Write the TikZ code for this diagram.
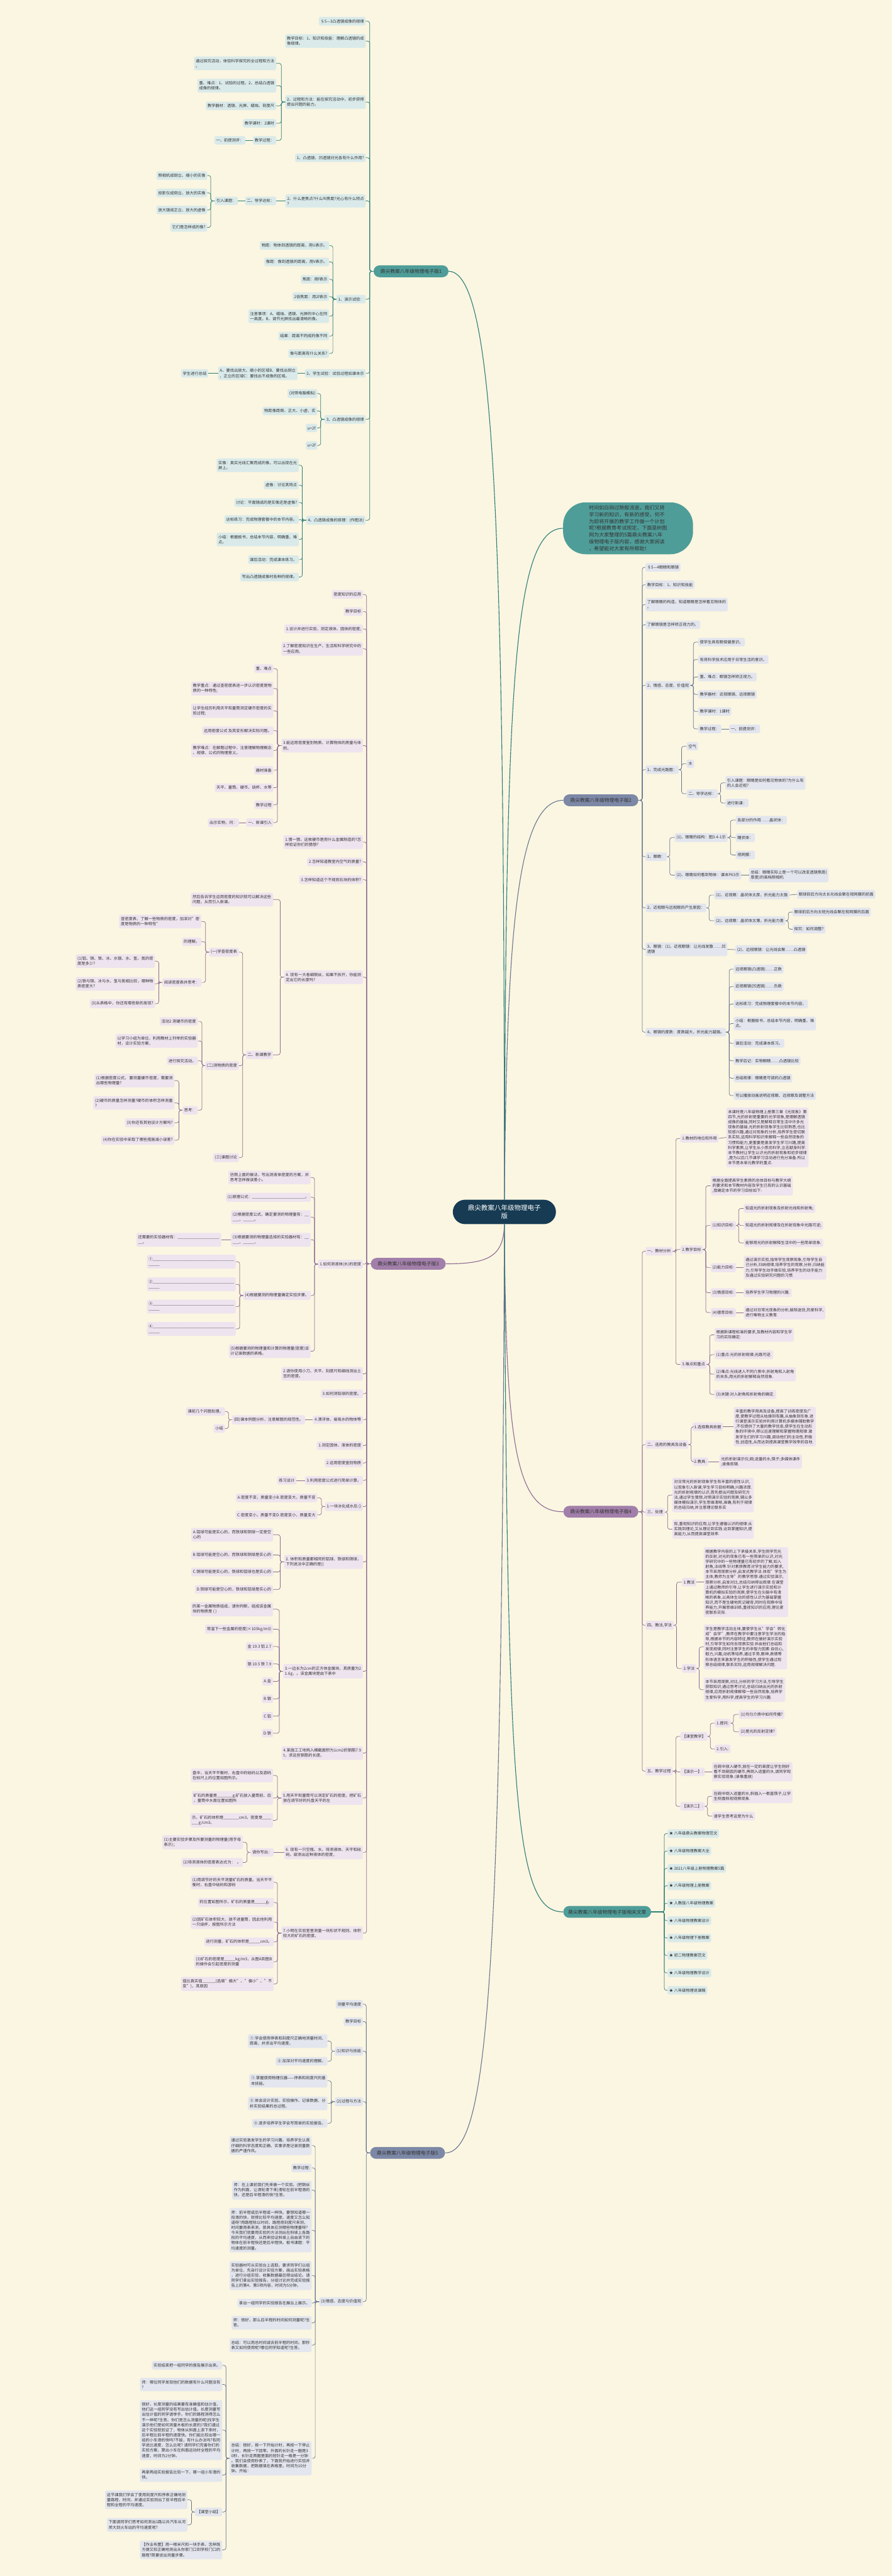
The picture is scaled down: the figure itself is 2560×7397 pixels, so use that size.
\documentclass[tikz,border=0pt]{standalone}
\usepackage{fontspec}
\setmainfont{Noto Sans CJK SC}
\usepackage{tikz}
\usetikzlibrary{positioning}
\definecolor{paper}{HTML}{FBF6E1}
\definecolor{ink}{HTML}{333333}
\definecolor{tealln}{HTML}{2E7E7A}
\definecolor{tealbg}{HTML}{DAEAEA}
\definecolor{tealhd}{HTML}{4F9D99}
\definecolor{purpln}{HTML}{8D6B94}
\definecolor{purpbg}{HTML}{EEE4EF}
\definecolor{purphd}{HTML}{A27FAA}
\definecolor{slateln}{HTML}{687691}
\definecolor{slatebg}{HTML}{E3E6EE}
\definecolor{slatehd}{HTML}{7C88A6}
\definecolor{navy}{HTML}{163B53}
\newcommand{\nodefont}{\fontsize{11.3}{14.7}\selectfont}
\newcommand{\headfont}{\fontsize{14}{18}\selectfont}
\newcommand{\fillin}[1]{\foreach \k in {1,...,#1}{\_}}

\begin{document}
\begin{tikzpicture}[
    x=1pt,y=-1pt,
    box/.style={rounded corners=5pt,inner xsep=5pt,inner ysep=7pt,minimum height=24pt,align=left,text=ink,font=\nodefont},
    tb/.style={box,fill=tealbg},
    pb/.style={box,fill=purpbg},
    sb/.style={box,fill=slatebg},
    hd/.style={rounded corners=17pt,minimum height=34pt,minimum width=215pt,inner xsep=14pt,text=ink,font=\headfont},
    tl/.style={draw=tealln,line width=1.3pt,rounded corners=6pt},
    pl/.style={draw=purpln,line width=1.3pt,rounded corners=6pt},
    sl/.style={draw=slateln,line width=1.3pt,rounded corners=6pt},
    ml/.style={line width=2pt}
  ]
  \fill[paper] (0,0) rectangle (2560,7397);
  \useasboundingbox (0,0) rectangle (2560,7397);

  % centre and intro
  \node[fill=navy,text=white,rounded corners=35pt,minimum width=296pt,minimum height=70pt,align=center,font=\fontsize{19}{25}\selectfont] (c0) at (1448,3480) {鼎尖教案八年级物理电子\\版};
  \node[fill=tealhd,text=ink,rounded corners=65pt,minimum width=373pt,minimum height=149pt,align=left,font=\fontsize{14.5}{19.4}\selectfont] (n0) at (1803,1517) {时间如白驹过隙般流逝，我们又将\\学习新的知识，有新的感受，何不\\为即将开展的教学工作做一个计划\\呢?根据教育考试规定，下面是树图\\网为大家整理的5篇鼎尖教案八年\\级物理电子版内容，感谢大家阅读\\，希望能对大家有所帮助！};

  % 版1
  \node[hd,fill=tealhd] (b1) at (1180,779) {鼎尖教案八年级物理电子版1};
  \node[tb,left] (a1) at (1050,61) {§5—3凸透镜成像的规律};
  \node[tb,left] (a2) at (1050,118) {教学目标：1、知识和技能：理解凸透镜的成\\像规律。};
  \node[tb,left] (a3) at (1050,293) {2、过程和方法：能在探究活动中，初步获得\\提出问题的能力。};
  \node[tb,left] (a31) at (793,182) {通过探究活动，体验科学探究的全过程和方法\\。};
  \node[tb,left] (a32) at (793,246) {重、难点：1、试验的过程。2、总结凸透镜\\成像的规律。};
  \node[tb,left] (a33) at (793,304) {教学器材：透镜、光屏、蜡烛、刻度尺};
  \node[tb,left] (a34) at (793,354) {教学课时：2课时};
  \node[tb,left] (a35) at (793,403) {教学过程：};
  \node[tb,left] (a351) at (705,403) {一、前提测评：};
  \node[tb,left] (a4) at (1050,453) {1、凸透镜、凹透镜对光各有什么作用?};
  \node[tb,left] (a5) at (1050,577) {2、什么是焦点?什么叫焦距?光心有什么特点\\?};
  \node[tb,left] (a51) at (793,577) {二、导学达标：};
  \node[tb,left] (a511) at (683,577) {引入课题：};
  \node[tb,left] (a5111) at (595,504) {照相机成倒立、缩小的实像};
  \node[tb,left] (a5112) at (595,554) {投影仪成倒立、放大的实像};
  \node[tb,left] (a5113) at (595,603) {放大镜成正立、放大的虚像};
  \node[tb,left] (a5114) at (595,653) {它们是怎样成的像?};
  \node[tb,left] (a6) at (1050,859) {1、演示试验：};
  \node[tb,left] (a61) at (945,705) {物距：物体到透镜的距离，用U表示。};
  \node[tb,left] (a62) at (945,752) {像距：像到透镜的距离，用V表示。};
  \node[tb,left] (a63) at (945,802) {焦距：用f表示};
  \node[tb,left] (a64) at (945,852) {2倍焦距：用2f表示};
  \node[tb,left] (a65) at (945,908) {注意事项：A、蜡烛、透镜、光屏的中心在同\\一高度。B、调节光屏找出最清晰的像。};
  \node[tb,left] (a66) at (945,965) {结果：距离不同成的像不同};
  \node[tb,left] (a67) at (945,1015) {像与距离有什么关系?};
  \node[tb,left] (a7) at (1050,1072) {2、学生试验：试验过程如课本示};
  \node[tb,left] (a71) at (854,1072) {A、要找出放大、缩小的区域B、要找出倒立\\、正立的区域C：要找出不成像的区域。};
  \node[tb,left] (a711) at (598,1072) {学生进行总结};
  \node[tb,left] (a8) at (1050,1204) {3、凸透镜成像的规律};
  \node[tb,left] (a81) at (911,1130) {(对照电脑模拟)};
  \node[tb,left] (a82) at (911,1180) {物距像距倒、正大、小虚、实};
  \node[tb,left] (a83) at (911,1229) {u>2f};
  \node[tb,left] (a84) at (911,1279) {u=2f};
  \node[tb,left] (a9) at (1050,1494) {4、凸透镜成像的原理：(作图法)};
  \node[tb,left] (a91) at (858,1336) {实像：真实光线汇聚而成的像，可以出现在光\\屏上。};
  \node[tb,left] (a92) at (858,1393) {虚像：讨论其特点};
  \node[tb,left] (a93) at (858,1443) {讨论：平面镜成的是实像还是虚像?};
  \node[tb,left] (a94) at (858,1492) {达标练习：完成物理套餐中的本节内容。};
  \node[tb,left] (a95) at (858,1549) {小结：根据板书，总结本节内容，明确重、难\\点。};
  \node[tb,left] (a96) at (858,1607) {课后活动：完成课本练习。};
  \node[tb,left] (a97) at (858,1657) {写出凸透镜成像时各种的规律。};

  % 版3
  \node[hd,fill=purphd] (b3) at (1172,3629) {鼎尖教案八年级物理电子版3};
  \node[pb,left] (c1) at (1042,1707) {密度知识的应用};
  \node[pb,left] (c2) at (1042,1756) {教学目标};
  \node[pb,left] (c3) at (1042,1806) {1.设计并进行实验，测定液体、固体的密度;};
  \node[pb,left] (c4) at (1042,1863) {2.了解密度知识在生产、生活和科学研究中的\\一些应用。};
  \node[pb,left] (c5) at (1042,2141) {3.能运用密度鉴别物质、计算物体的质量与体\\积。};
  \node[pb,left] (c51) at (785,1920) {重、难点};
  \node[pb,left] (c52) at (785,1977) {教学重点：通过查密度表进一步认识密度是物\\质的一种特性;};
  \node[pb,left] (c53) at (785,2041) {让学生经历利用天平和量筒测定硬币密度的实\\验过程;};
  \node[pb,left] (c54) at (785,2098) {运用密度公式 及其变形解决实际问题。};
  \node[pb,left] (c55) at (785,2155) {教学难点：在解题过程中，注意理解物理概念\\、规律、公式的物理意义。};
  \node[pb,left] (c56) at (785,2212) {器材准备};
  \node[pb,left] (c57) at (785,2262) {天平、量筒、硬币、烧杯、水等};
  \node[pb,left] (c58) at (785,2311) {教学过程};
  \node[pb,left] (c59) at (785,2362) {一、新课引入};
  \node[pb,left] (c591) at (686,2362) {出示实物，问：};
  \node[pb,left] (c6) at (1042,2418) {1.猜一猜，这枚硬币是用什么金属制造的?怎\\样验证你们的猜想?};
  \node[pb,left] (c7) at (1042,2475) {2.怎样知道教室内空气的质量?};
  \node[pb,left] (c8) at (1042,2526) {3.怎样知道这个不规则石块的体积?};
  \node[pb,left] (c9) at (1042,2806) {4. 现有一大卷细铜丝，如果不拆开，你能测\\定出它的长度吗?};
  \node[pb,left] (c91) at (784,2583) {然后告诉学生运用密度的知识就可以解决这些\\问题，从而引入新课。};
  \node[pb,left] (c92) at (784,3029) {二、新课教学};
  \node[pb,left] (d1) at (686,2734) {(一)学查密度表};
  \node[pb,left] (d11) at (578,2646) {查密度表，了解一些物质的密度，加深对"密\\度是物质的一种特性"};
  \node[pb,left] (d12) at (578,2704) {的理解。};
  \node[pb,left] (d13) at (578,2821) {阅读密度表并思考：};
  \node[pb,left] (d131) at (445,2760) {(1)铝、铜、铁、冰、水银、水、氢、氮的密\\度是多少?};
  \node[pb,left] (d132) at (445,2825) {(2)铁与铜、冰与水、氢与氮相比较，哪种物\\质密度大?};
  \node[pb,left] (d133) at (445,2882) {(3)从表格中，你还有哪些新的发现?};
  \node[pb,left] (d2) at (686,3060) {(二)测物质的密度};
  \node[pb,left] (d21) at (568,2933) {活动2 测硬币的密度};
  \node[pb,left] (d22) at (568,2989) {以学习小组为单位，利用教材上列举的实验器\\材，设计实验方案，};
  \node[pb,left] (d23) at (568,3046) {进行探究活动。};
  \node[pb,left] (d24) at (568,3188) {思考：};
  \node[pb,left] (d241) at (501,3103) {(1)根据密度公式， 要测量硬币密度，需要测\\出哪些物理量?};
  \node[pb,left] (d242) at (501,3167) {(2)硬币的质量怎样测量?硬币的体积怎样测量\\?};
  \node[pb,left] (d243) at (501,3224) {(3)你还有其他设计方案吗?};
  \node[pb,left] (d244) at (501,3274) {(4)你在实验中采取了哪些措施减小误差?};
  \node[pb,left] (d3) at (686,3324) {(三)课题讨论};
  \node[pb,left] (c10) at (1042,3630) {1.如何测液体(水)的密度};
  \node[pb,left] (e1) at (892,3381) {仿照上面的做法，写出测液体密度的方案，并\\思考怎样做误差小。};
  \node[pb,left] (e2) at (892,3438) {(1)原理公式：\fillin{24}。};
  \node[pb,left] (e3) at (892,3495) {(2)根据密度公式，确定要测的物理量有：\fillin{2}\\\fillin{3}、\fillin{5}。};
  \node[pb,left] (e4) at (892,3560) {(3)根据要测的物理量选择的实验器材有：\fillin{2}\\\fillin{3}、\fillin{5}，};
  \node[pb,left] (e41) at (635,3560) {还需要的实验器材有：\fillin{19}\\\fillin{2}。};
  \node[pb,left] (e5) at (892,3720) {(4)根据要测的物理量确定实验步骤。};
  \node[pb,left] (e51) at (677,3623) {①\fillin{37}\\\fillin{5}};
  \node[pb,left] (e52) at (677,3688) {②\fillin{37}\\\fillin{5}};
  \node[pb,left] (e53) at (677,3752) {③\fillin{37}\\\fillin{5}};
  \node[pb,left] (e54) at (677,3816) {④\fillin{37}\\\fillin{5}};
  \node[pb,left] (e6) at (892,3880) {(5)根据要测的物理量和计算的物理量(密度)设\\计记录数据的表格。};
  \node[pb,left] (c11) at (1042,3945) {2.请你使用小刀、天平、刻度尺和细线测出土\\豆的密度。};
  \node[pb,left] (c12) at (1042,4002) {3.如何测铅球的密度。};
  \node[pb,left] (c13) at (1042,4077) {4.漂浮体、易吸水的物体等};
  \node[pb,left] (c131) at (876,4077) {(四)课本例题分析，注意解题的规范性。};
  \node[pb,left] (c1311) at (646,4053) {课前几个问题处理。};
  \node[pb,left] (c1312) at (646,4102) {小结};
  \node[pb,left] (c14) at (1042,4151) {1.测定固体、液体的密度};
  \node[pb,left] (c15) at (1042,4201) {2.运用密度鉴别物质};
  \node[pb,left] (c16) at (1042,4251) {3.利用密度公式进行简单计算。};
  \node[pb,left] (c161) at (851,4251) {练习设计};
  \node[pb,left] (c17) at (1042,4326) {1.一块冰化成水后 ()};
  \node[pb,left] (c171) at (911,4301) {A.密度不变，质量变小B.密度变大，质量不变};
  \node[pb,left] (c172) at (911,4350) {C.密度变小，质量不变D.密度变小，质量变大};
  \node[pb,left] (c18) at (1042,4485) {2. 体积和质量都相同的铝球、铁球和铜球，\\下列说法中正确的是()};
  \node[pb,left] (c181) at (784,4407) {A.铝球可能是实心的，而铁球和铜球一定是空\\心的};
  \node[pb,left] (c182) at (784,4465) {B.铝球可能是空心的，而铁球和铜球是实心的};
  \node[pb,left] (c183) at (784,4514) {C.铜球可能是实心的，铁球和铝球也是实心的};
  \node[pb,left] (c184) at (784,4564) {D.铜球可能是空心的，铁球和铝球是实心的};
  \node[pb,left] (c19) at (1042,4799) {3.一边长为2cm的正方体金属块，其质量为2\\1.6g，。该金属块是由下表中};
  \node[pb,left] (c191) at (784,4621) {的某一金属物质组成，请你判断，组成该金属\\块的物质是 ( )};
  \node[pb,left] (c192) at (784,4678) {常温下一些金属的密度(×103kg/m3)};
  \node[pb,left] (c193) at (784,4728) {金 19.3 铝 2.7};
  \node[pb,left] (c194) at (784,4778) {银 10.5 铁 7.9};
  \node[pb,left] (c195) at (784,4828) {A.金};
  \node[pb,left] (c196) at (784,4878) {B.银};
  \node[pb,left] (c197) at (784,4928) {C.铝};
  \node[pb,left] (c198) at (784,4977) {D.铁};
  \node[pb,left] (c20) at (1042,5034) {4.某施工工地购入横截面积为1cm2的钢筋7.9\\t，求这些钢筋的长度。};
  \node[pb,left] (c21) at (1042,5163) {5.用天平和量筒可以测定矿石的密度。把矿石\\放在调节好的托盘天平的左};
  \node[pb,left] (c211) at (784,5098) {盘中，当天平平衡时，右盘中的砝码以及游码\\在标尺上的位置如图所示。};
  \node[pb,left] (c212) at (784,5163) {矿石的质量是\fillin{7}g;矿石放入量筒前、后\\，量筒中水面位置如图所};
  \node[pb,left] (c213) at (784,5227) {示。矿石的体积是\fillin{7}cm3，密度是\fillin{4}\\\fillin{3}g/cm3。};
  \node[pb,left] (c22) at (1042,5319) {6. 现有一只空瓶、水、待测液体、天平和砝\\码。欲测出这种液体的密度，};
  \node[pb,left] (c221) at (786,5319) {请你写出：};
  \node[pb,left] (c2211) at (697,5290) {(1)主要实验步骤及所要测量的物理量(用字母\\表示)；};
  \node[pb,left] (c2212) at (697,5348) {(2)待测液体的密度表达式为：\ \ 。};
  \node[pb,left] (c23) at (1042,5551) {7.小明在实验室里测量一块形状不规则、体积\\较大的矿石的密度。};
  \node[pb,left] (c231) at (786,5405) {(1)用调节好的天平测量矿石的质量。当天平平\\衡时，右盘中砝码和游码};
  \node[pb,left] (c232) at (786,5463) {的位置如图所示，矿石的质量是\fillin{5}g。};
  \node[pb,left] (c233) at (786,5519) {(2)因矿石体积较大，放不进量筒，因此他利用\\一只烧杯，按图所示方法};
  \node[pb,left] (c234) at (786,5576) {进行测量，矿石的体积是\fillin{5}cm3。};
  \node[pb,left] (c235) at (786,5633) {(3)矿石的密度是\fillin{5}kg/m3，从图A到图B\\的操作会引起密度的测量};
  \node[pb,left] (c236) at (786,5697) {值比真实值\fillin{6}(选填"偏大"、"偏小"、"不\\变")，其原因};

  % 版5
  \node[hd,fill=slatehd] (b5) at (1170,6182) {鼎尖教案八年级物理电子版5};
  \node[sb,left] (f1) at (1042,5755) {测量平均速度};
  \node[sb,left] (f2) at (1042,5805) {教学目标};
  \node[sb,left] (f3) at (1042,5890) {(1)知识与技能};
  \node[sb,left] (f31) at (940,5861) {①.学会使用停表和刻度尺正确地测量时间、\\距离，并求出平均速度。};
  \node[sb,left] (f32) at (940,5919) {②.加深对平均速度的理解。};
  \node[sb,left] (f4) at (1042,6035) {(2)过程与方法};
  \node[sb,left] (f41) at (940,5975) {①.掌握使用物理仪器——停表和刻度尺的基\\本技能。};
  \node[sb,left] (f42) at (940,6040) {②.体会设计实验、实验操作、记录数据、分\\析实验结果的总过程。};
  \node[sb,left] (f43) at (940,6097) {③.逐步培养学生学会写简单的实验报告。};
  \node[sb,left] (f5) at (1042,6609) {(3)情感、态度与价值观};
  \node[sb,left] (f51) at (895,6161) {通过实验激发学生的学习兴趣，培养学生认真\\仔细的科学态度和正确、实事求是记录测量数\\据的严谨作风。};
  \node[sb,left] (f52) at (895,6225) {教学过程:};
  \node[sb,left] (f53) at (895,6289) {师：在上课前我们先来做一个实验。(把铜丝\\作为斜面，让滑轮滑下来)滑轮在前半程滑的\\快，还是后半程滑的快?生答。};
  \node[sb,left] (f54) at (895,6404) {师：前半程或后半程或一样快。要想知道哪一\\段滑的快，就得比较平均速度。速度又怎么知\\道呀?用路程除以时间，路程用刻度尺来测，\\时间要用表来测，那具体应测哪些物理量呀?\\今天我们就要用实验的方法测出在斜坡上各路\\段的平均速度，从而来验证斜坡上自由滚下的\\物体在前半程快还是后半程快。板书课题：平\\均速度的测量。};
  \node[sb,left] (f55) at (895,6534) {实验器材可从实验台上选取。要求同学们以组\\为单位，先自行设计实验方案，画出实验表格\\，进行分组实验，收集数据最后得出结论。请\\同学们拿出实验报告，分组讨论并完成实验报\\告上的第4、第5项内容，时间为5分钟。};
  \node[sb,left] (f56) at (895,6613) {拿出一组同学的实验报告在展台上展示。};
  \node[sb,left] (f57) at (895,6670) {师：很好，那么后半程的时间如何测量呢?生\\答。};
  \node[sb,left] (f58) at (895,6734) {总结：可以用总时间减去前半程的时间。那秒\\表又如何使用呢?哪位同学知道呢?生答。};
  \node[sb,left] (f59) at (895,7059) {总结：很好，按一下开始计时，再按一下停止\\计时，再按一下回零。外面的长针走一圈是3\\0秒，长针走两圈里面的短针走一格是一分钟\\。我们会使用秒表了，下面就开始进行实验并\\收集数据，把数据填在表格里。时间为10分\\钟。开始：};
  \node[sb,left] (f591) at (638,6792) {实验结束把一组同学的报告展示出来。};
  \node[sb,left] (f592) at (638,6847) {师：哪位同学发现他们的数据有什么问题没有\\?};
  \node[sb,left] (f593) at (638,6978) {很好，长度测量的结果要有准确值和估计值，\\他们这一组同学没有写出估计值。长度测量写\\出估计值的同学请举手。你们的路程测得怎么\\不一样呢?生答。你们是怎么测量的呢(找学生\\演示他们是如何测量木板的长度的)?我们通过\\这个实验就验证了，物体从斜面上滚下来时，\\后半程比前半程的速度快。你们能比较出哪一\\组的小车滑的快吗?不能，有什么办法吗?有同\\学说比速度，怎么比呢? 请同学们完善你们的\\实验方案，算出小车在斜面运动时全程的平均\\速度，时间为2分钟。};
  \node[sb,left] (f594) at (638,7107) {再拿两组实验报告比较一下，哪一组小车滑的\\快。};
  \node[sb,left] (f595) at (638,7213) {【课堂小结】};
  \node[sb,left] (f5951) at (538,7178) {这节课我们学会了使用刻度尺和停表正确地测\\量路程、时间，并通过实验测出了前半程后半\\程和全程的平均速度。};
  \node[sb,left] (f5952) at (538,7250) {下面请同学们思考如何测出1路公共汽车从河\\师大到火车站的平均速度呢?};
  \node[sb,left] (f596) at (638,7322) {【作业布置】用一根米尺和一块手表，怎样既\\方便又较正确地测出从你家门口到学校门口的\\路程?简要说出测量步骤。};

  % 版2
  \node[hd,fill=slatehd] (b2) at (1725,2298) {鼎尖教案八年级物理电子版2};
  \node[sb,right] (g1) at (1853,1629) {§5—4眼睛和眼镜};
  \node[sb,right] (g2) at (1853,1679) {教学目标：1、知识和技能};
  \node[sb,right] (g3) at (1853,1736) {了解眼睛的构造，知道眼睛是怎样看见物体的\\。};
  \node[sb,right] (g4) at (1853,1794) {了解眼镜是怎样矫正视力的。};
  \node[sb,right] (g5) at (1853,1968) {2、情感、态度、价值观};
  \node[sb,right] (g51) at (2004,1844) {使学生具有眼保健意识。};
  \node[sb,right] (g52) at (2004,1894) {有将科学技术应用于日常生活的意识。};
  \node[sb,right] (g53) at (2004,1944) {重、难点：眼镜怎样矫正视力。};
  \node[sb,right] (g54) at (2004,1994) {教学器材：近视眼镜、远视眼镜};
  \node[sb,right] (g55) at (2004,2043) {教学课时：1课时};
  \node[sb,right] (g56) at (2004,2093) {教学过程：};
  \node[sb,right] (g561) at (2093,2093) {一、前提测评：};
  \node[sb,right] (g6) at (1853,2210) {1、完成光路图：};
  \node[sb,right] (g61) at (1971,2143) {空气};
  \node[sb,right] (g62) at (1971,2193) {水};
  \node[sb,right] (g63) at (1971,2279) {二、导学达标：};
  \node[sb,right] (g631) at (2082,2248) {引入课题：眼睛是如何看见物体的?为什么有\\的人会近视?};
  \node[sb,right] (g632) at (2082,2306) {进行新课：};
  \node[sb,right] (g7) at (1853,2460) {1、眼睛：};
  \node[sb,right] (g71) at (1937,2405) {(1)、眼睛的结构：图3.4-1示};
  \node[sb,right] (g711) at (2112,2355) {各部分的作用……晶状体：};
  \node[sb,right] (g712) at (2112,2405) {睫状体：};
  \node[sb,right] (g713) at (2112,2455) {视网膜：};
  \node[sb,right] (g72) at (1937,2513) {(2)、眼睛如何看到物体：课本P63示};
  \node[sb,right] (g721) at (2150,2513) {总结：眼睛实际上是一个可以改变透镜焦距(\\厚度)的高档照相机};
  \node[sb,right] (g8) at (1853,2607) {2、近视眼与远视眼的产生原因：};
  \node[sb,right] (g81) at (2050,2570) {(1)、近视眼：晶状体太厚，折光能力太强};
  \node[sb,right] (g811) at (2288,2568) {眼球前后方向太长光线会聚在视网膜的前面};
  \node[sb,right] (g82) at (2050,2644) {(2)、远视眼：晶状体太薄，折光能力差};
  \node[sb,right] (g821) at (2275,2619) {眼球前后方向太短光线会聚在视网膜的后面};
  \node[sb,right] (g822) at (2275,2668) {探究：如何调整?};
  \node[sb,right] (g9) at (1853,2726) {3、眼镜：(1)、近视眼镜：让光线发散……凹\\透镜};
  \node[sb,right] (g91) at (2111,2727) {(2)、远视眼镜：让光线会聚……凸透镜};
  \node[sb,right] (g10) at (1853,2964) {4、眼镜的度数：度数越大，折光能力越强。};
  \node[sb,right] (g101) at (2106,2783) {远视眼镜(凸透镜)……正数};
  \node[sb,right] (g102) at (2106,2833) {近视眼镜(凹透镜)……负数};
  \node[sb,right] (g103) at (2106,2883) {达标练习：完成物理套餐中的本节内容。};
  \node[sb,right] (g104) at (2106,2939) {小结：根据板书，总结本节内容，明确重、难\\点。};
  \node[sb,right] (g105) at (2106,2996) {课后活动：完成课本练习。};
  \node[sb,right] (g106) at (2106,3046) {教学后记：实物眼睛……凸透镜比较};
  \node[sb,right] (g107) at (2106,3096) {总结规律：眼睛是可调的凸透镜};
  \node[sb,right] (g108) at (2106,3146) {可以播放动画说明近视眼、远视眼及调整方法};

  % 版4
  \node[hd,fill=purphd] (b4) at (1725,4341) {鼎尖教案八年级物理电子版4};
  \node[pb,right] (h1) at (1853,3593) {一、教材分析};
  \node[pb,right] (h11) at (1953,3269) {1.教材的地位和作用};
  \node[pb,right] (h111) at (2085,3266) {本课时是八年级物理上册第三章《光现象》第\\四节,光的折射是重要的光学现象,是理解透镜\\成像的基础,同时又是解释日常生活中许多光\\现象的基础.光的折射现象学生比较熟悉,也比\\较感兴趣,通过对现象的分析,培养学生密切联\\系实际,运用科学知识来解释一些自然现象的\\习惯和能力,更重要是激发学生学习兴趣,提高\\科学素质,让学生从小崇尚科学,立志献身科学.\\本节教材让学生认识光的折射现象和初步规律\\,是为以后几节课学习活动进行充分准备.所以\\本节是本单元教学的重点.};
  \node[pb,right] (h12) at (1953,3588) {2.教学目标};
  \node[pb,right] (h121) at (2040,3405) {根据全面提高学生素质的总体目标与教学大纲\\的要求和本节教材内容及学生已有的认识基础\\,我确定本节的学习目标如下:};
  \node[pb,right] (h122) at (2040,3519) {(1)知识目标:};
  \node[pb,right] (h1221) at (2135,3470) {知道光的折射现象及折射光线和折射角;};
  \node[pb,right] (h1222) at (2135,3519) {知道光的折射规律及在折射现象中光路可逆;};
  \node[pb,right] (h1223) at (2135,3569) {能够用光的折射解释生活中的一些简单现象.};
  \node[pb,right] (h123) at (2040,3640) {(2)能力目标:};
  \node[pb,right] (h1231) at (2135,3640) {通过演示实验,指导学生观察现象,引导学生自\\己分析,归纳规律,培养学生的观察,分析,归纳能\\力,引导学生动手做实验,培养学生的动手能力\\及通过实验研究问题的习惯.};
  \node[pb,right] (h124) at (2040,3712) {(3)情感目标:};
  \node[pb,right] (h1241) at (2135,3712) {培养学生学习物理的兴趣.};
  \node[pb,right] (h125) at (2040,3769) {(4)德育目标:};
  \node[pb,right] (h1251) at (2135,3769) {通过对日常光现象的分析,破除迷信,热爱科学,\\进行唯物主义教育.};
  \node[pb,right] (h13) at (1953,3918) {3.难点和重点};
  \node[pb,right] (h131) at (2051,3833) {根据新课程标准的要求,及教材内容和学生学\\习的实际确定:};
  \node[pb,right] (h132) at (2051,3890) {(1)重点:光的折射规律;光路可逆.};
  \node[pb,right] (h133) at (2051,3946) {(2)难点:光线进入不同介质中,折射角和入射角\\的关系;用光的折射解释自然现象.};
  \node[pb,right] (h134) at (2051,4004) {(3)关键:对入射角和折射角的确定.};
  \node[pb,right] (h2) at (1853,4148) {二、选用的教具及设备};
  \node[pb,right] (h21) at (1988,4097) {1.选择教具依据};
  \node[pb,right] (h211) at (2106,4097) {丰富的教学用具及设备,提高了训练密度及广\\度,使教学过程从枯燥到有趣,从抽象到形象.进\\行课堂演示实验并利用计算机多媒体辅助教学\\,不仅提供了大量的教学信息,使学生在生动形\\象的环境中,得以迅速理解和掌握物理规律.激\\发学生们的学习兴趣,调动他们的主动性,积极\\性,创造性,从而达到提高课堂教学效率的目地.};
  \node[pb,right] (h22) at (1988,4197) {2.教具:};
  \node[pb,right] (h221) at (2065,4197) {光的折射演示仪;碗;适量的水;筷子;多媒体课件\\;录像剪辑.};
  \node[pb,right] (h3) at (1853,4342) {三、处理};
  \node[pb,right] (h31) at (1930,4293) {对日常光的折射现象学生有丰富的感性认识,\\以现象引入新课,学生学习目标明确,兴趣浓厚.\\光的折射规律的认识,首先提出问题及研究方\\法,通过学生猜想,对照演示实验的观察,辅以多\\媒体模拟演示,学生思维清晰,准确,有利于规律\\的总结归纳,并注意理论联系实};
  \node[pb,right] (h32) at (1930,4391) {际,重视知识的应用,让学生遵循认识的规律:从\\实践到理论,又从理论到实践.达到掌握知识,提\\高能力,从而提高课堂效率.};
  \node[pb,right] (h4) at (1853,4667) {四、教法,学法};
  \node[pb,right] (h41) at (1957,4543) {1.教法};
  \node[pb,right] (h411) at (2020,4543) {根据教学内容的上下承接关系,学生刚学完光\\的反射,对光的现象已有一些简单的认识,对光\\学研究中的一些物理量已有初步的了解,如入\\射角,法线等.针对素质教育对学生能力的要求,\\本节采用观察分析,启发式教学法.体现"学生为\\主体,教师为主导"的教学思想.通过实验演示,\\观察分析,启发对比,总结归纳得出规律.在课堂\\上通过教师的引导,让学生进行演示实验和计\\算机的模拟实验的观察,使学生在头脑中有清\\晰的表象,以具体生动的感性认识为基础掌握\\知识,而不是生硬地死记硬背,同时在观察中培\\养能力,开展思维训练,重视知识的应用,理论紧\\密联系实际.};
  \node[pb,right] (h42) at (1957,4791) {2.学法};
  \node[pb,right] (h421) at (2020,4729) {学生是教学活动主体,要使学生从"学会"转化\\成"会学",教师在教学中要注意学生学法的指\\导,根据本节的内容特征,教师在做好演示实验\\时,引导学生如何去观察实验 并由他们总结和\\发现规律,同时注意学生的非智力因素:自信心,\\毅力,兴趣,动机等培养,通过手势,眼神,表情等\\形体语言来激发学生的积极性,使学生通过观\\察总结规律,联系实际,运用规律解决问题.};
  \node[pb,right] (h422) at (2020,4852) {本节采用观察,对比,分析的学习方法,引导学生\\获取知识,通过思考讨论,总结归纳出光的折射\\规律,应用折射规律解释一些自然现象,培养学\\生爱科学,用科学,提高学生的学习兴趣.};
  \node[pb,right] (h5) at (1853,5086) {五、教学过程};
  \node[pb,right] (h51) at (1953,4986) {【课堂教学】};
  \node[pb,right] (h511) at (2052,4948) {1.提问:};
  \node[pb,right] (h5111) at (2121,4923) {(1)均匀介质中如何传播?};
  \node[pb,right] (h5112) at (2121,4973) {(2)是光的反射定律?};
  \node[pb,right] (h512) at (2052,5022) {2.引入:};
  \node[pb,right] (h52) at (1953,5088) {【演示一】:};
  \node[pb,right] (h521) at (2044,5088) {在碗中放入硬币,放在一定的高度让学生刚好\\看不到碗底的硬币,再倒入适量的水,请同学观\\察实验现象.(录像重放)};
  \node[pb,right] (h53) at (1953,5187) {【演示二】:};
  \node[pb,right] (h531) at (2044,5158) {在碗中倒入适量的水,斜插入一根直筷子,让学\\生侧面斜视观察现象.};
  \node[pb,right] (h532) at (2044,5215) {请学生思考这是为什么};

  % related
  \node[hd,fill=tealhd,right] (b6) at (1617,5490) {鼎尖教案八年级物理电子版相关文章};
  \node[tb,right] (k1) at (1916,5265) {★ 八年级鼎尖教案物理范文};
  \node[tb,right] (k2) at (1916,5315) {★ 八年级物理教案大全};
  \node[tb,right] (k3) at (1916,5365) {★ 2021八年级上册物理教案5篇};
  \node[tb,right] (k4) at (1916,5415) {★ 八年级物理上册教案};
  \node[tb,right] (k5) at (1916,5465) {★ 人教版八年级物理教案};
  \node[tb,right] (k6) at (1916,5515) {★ 八年级物理教案设计};
  \node[tb,right] (k7) at (1916,5565) {★ 八年级物理下册教案};
  \node[tb,right] (k8) at (1916,5615) {★ 初二物理教案范文};
  \node[tb,right] (k9) at (1916,5665) {★ 八年级物理教学设计};
  \node[tb,right] (k10) at (1916,5715) {★ 八年级物理说课稿};

  % links from the centre
  \draw[ml,tealln] (c0.north) .. controls (1448,1500) and (1420,779) .. (b1.east);
  \draw[ml,tealln] (c0.north) .. controls (1452,2000) and (1470,1517) .. (n0.west);
  \draw[ml,slateln] (c0.north) .. controls (1455,2700) and (1480,2298) .. (b2.west);
  \draw[ml,purpln] (c0.south) .. controls (1446,3610) and (1400,3629) .. (b3.east);
  \draw[ml,purpln] (c0.south) .. controls (1452,4150) and (1480,4341) .. (b4.west);
  \draw[ml,slateln] (c0.south) .. controls (1440,5700) and (1400,6182) .. (b5.east);
  \draw[ml,tealln] (c0.south) .. controls (1456,5200) and (1480,5490) .. (b6.west);

  % 版1 links
  \foreach \c in {a1,a2,a3,a4,a5,a6,a7,a8,a9}
    \draw[tl] (b1.west) -- ++(-11,0) |- (\c.east);
  \foreach \c in {a31,a32,a33,a34,a35}
    \draw[tl] (a3.west) -- ++(-11,0) |- (\c.east);
  \draw[tl] (a35.west) -- (a351.east);
  \draw[tl] (a5.west) -- (a51.east);
  \draw[tl] (a51.west) -- (a511.east);
  \foreach \c in {a5111,a5112,a5113,a5114}
    \draw[tl] (a511.west) -- ++(-11,0) |- (\c.east);
  \foreach \c in {a61,a62,a63,a64,a65,a66,a67}
    \draw[tl] (a6.west) -- ++(-10,0) |- (\c.east);
  \draw[tl] (a7.west) -- (a71.east);
  \draw[tl] (a71.west) -- (a711.east);
  \foreach \c in {a81,a82,a83,a84}
    \draw[tl] (a8.west) -- ++(-11,0) |- (\c.east);
  \foreach \c in {a91,a92,a93,a94,a95,a96,a97}
    \draw[tl] (a9.west) -- ++(-11,0) |- (\c.east);

  % 版3 links
  \foreach \c in {c1,c2,c3,c4,c5,c6,c7,c8,c9,c10,c11,c12,c13,c14,c15,c16,c17,c18,c19,c20,c21,c22,c23}
    \draw[pl] (b3.west) -- ++(-12,0) |- (\c.east);
  \foreach \c in {c51,c52,c53,c54,c55,c56,c57,c58,c59}
    \draw[pl] (c5.west) -- ++(-11,0) |- (\c.east);
  \draw[pl] (c59.west) -- (c591.east);
  \foreach \c in {c91,c92}
    \draw[pl] (c9.west) -- ++(-11,0) |- (\c.east);
  \foreach \c in {d1,d2,d3}
    \draw[pl] (c92.west) -- ++(-9,0) |- (\c.east);
  \foreach \c in {d11,d12,d13}
    \draw[pl] (d1.west) -- ++(-10,0) |- (\c.east);
  \foreach \c in {d131,d132,d133}
    \draw[pl] (d13.west) -- ++(-10,0) |- (\c.east);
  \foreach \c in {d21,d22,d23,d24}
    \draw[pl] (d2.west) -- ++(-9,0) |- (\c.east);
  \foreach \c in {d241,d242,d243,d244}
    \draw[pl] (d24.west) -- ++(-10,0) |- (\c.east);
  \foreach \c in {e1,e2,e3,e4,e5,e6}
    \draw[pl] (c10.west) -- ++(-10,0) |- (\c.east);
  \draw[pl] (e4.west) -- (e41.east);
  \foreach \c in {e51,e52,e53,e54}
    \draw[pl] (e5.west) -- ++(-10,0) |- (\c.east);
  \draw[pl] (c13.west) -- (c131.east);
  \foreach \c in {c1311,c1312}
    \draw[pl] (c131.west) -- ++(-10,0) |- (\c.east);
  \draw[pl] (c16.west) -- (c161.east);
  \foreach \c in {c171,c172}
    \draw[pl] (c17.west) -- ++(-10,0) |- (\c.east);
  \foreach \c in {c181,c182,c183,c184}
    \draw[pl] (c18.west) -- ++(-11,0) |- (\c.east);
  \foreach \c in {c191,c192,c193,c194,c195,c196,c197,c198}
    \draw[pl] (c19.west) -- ++(-11,0) |- (\c.east);
  \foreach \c in {c211,c212,c213}
    \draw[pl] (c21.west) -- ++(-11,0) |- (\c.east);
  \draw[pl] (c22.west) -- (c221.east);
  \foreach \c in {c2211,c2212}
    \draw[pl] (c221.west) -- ++(-10,0) |- (\c.east);
  \foreach \c in {c231,c232,c233,c234,c235,c236}
    \draw[pl] (c23.west) -- ++(-11,0) |- (\c.east);

  % 版5 links
  \foreach \c in {f1,f2,f3,f4,f5}
    \draw[sl] (b5.west) -- ++(-11,0) |- (\c.east);
  \foreach \c in {f31,f32}
    \draw[sl] (f3.west) -- ++(-10,0) |- (\c.east);
  \foreach \c in {f41,f42,f43}
    \draw[sl] (f4.west) -- ++(-10,0) |- (\c.east);
  \foreach \c in {f51,f52,f53,f54,f55,f56,f57,f58,f59}
    \draw[sl] (f5.west) -- ++(-11,0) |- (\c.east);
  \foreach \c in {f591,f592,f593,f594,f595,f596}
    \draw[sl] (f59.west) -- ++(-10,0) |- (\c.east);
  \foreach \c in {f5951,f5952}
    \draw[sl] (f595.west) -- ++(-10,0) |- (\c.east);

  % 版2 links
  \foreach \c in {g1,g2,g3,g4,g5,g6,g7,g8,g9,g10}
    \draw[sl] (b2.east) -- ++(11,0) |- (\c.west);
  \foreach \c in {g51,g52,g53,g54,g55,g56}
    \draw[sl] (g5.east) -- ++(8,0) |- (\c.west);
  \draw[sl] (g56.east) -- (g561.west);
  \foreach \c in {g61,g62,g63}
    \draw[sl] (g6.east) -- ++(8,0) |- (\c.west);
  \foreach \c in {g631,g632}
    \draw[sl] (g63.east) -- ++(8,0) |- (\c.west);
  \foreach \c in {g71,g72}
    \draw[sl] (g7.east) -- ++(8,0) |- (\c.west);
  \foreach \c in {g711,g712,g713}
    \draw[sl] (g71.east) -- ++(8,0) |- (\c.west);
  \draw[sl] (g72.east) -- (g721.west);
  \foreach \c in {g81,g82}
    \draw[sl] (g8.east) -- ++(8,0) |- (\c.west);
  \draw[sl] (g81.east) -- (g811.west);
  \foreach \c in {g821,g822}
    \draw[sl] (g82.east) -- ++(8,0) |- (\c.west);
  \draw[sl] (g9.east) -- (g91.west);
  \foreach \c in {g101,g102,g103,g104,g105,g106,g107,g108}
    \draw[sl] (g10.east) -- ++(9,0) |- (\c.west);

  % 版4 links
  \foreach \c in {h1,h2,h3,h4,h5}
    \draw[pl] (b4.east) -- ++(11,0) |- (\c.west);
  \foreach \c in {h11,h12,h13}
    \draw[pl] (h1.east) -- ++(9,0) |- (\c.west);
  \draw[pl] (h11.east) -- (h111.west);
  \foreach \c in {h121,h122,h123,h124,h125}
    \draw[pl] (h12.east) -- ++(8,0) |- (\c.west);
  \foreach \c in {h1221,h1222,h1223}
    \draw[pl] (h122.east) -- ++(8,0) |- (\c.west);
  \draw[pl] (h123.east) -- (h1231.west);
  \draw[pl] (h124.east) -- (h1241.west);
  \draw[pl] (h125.east) -- (h1251.west);
  \foreach \c in {h131,h132,h133,h134}
    \draw[pl] (h13.east) -- ++(8,0) |- (\c.west);
  \foreach \c in {h21,h22}
    \draw[pl] (h2.east) -- ++(8,0) |- (\c.west);
  \draw[pl] (h21.east) -- (h211.west);
  \draw[pl] (h22.east) -- (h221.west);
  \foreach \c in {h31,h32}
    \draw[pl] (h3.east) -- ++(8,0) |- (\c.west);
  \foreach \c in {h41,h42}
    \draw[pl] (h4.east) -- ++(8,0) |- (\c.west);
  \draw[pl] (h41.east) -- (h411.west);
  \foreach \c in {h421,h422}
    \draw[pl] (h42.east) -- ++(8,0) |- (\c.west);
  \foreach \c in {h51,h52,h53}
    \draw[pl] (h5.east) -- ++(9,0) |- (\c.west);
  \foreach \c in {h511,h512}
    \draw[pl] (h51.east) -- ++(8,0) |- (\c.west);
  \foreach \c in {h5111,h5112}
    \draw[pl] (h511.east) -- ++(8,0) |- (\c.west);
  \draw[pl] (h52.east) -- (h521.west);
  \foreach \c in {h531,h532}
    \draw[pl] (h53.east) -- ++(8,0) |- (\c.west);

  % related links
  \foreach \c in {k1,k2,k3,k4,k5,k6,k7,k8,k9,k10}
    \draw[tl] (b6.east) -- ([xshift=-9pt]b6.east -| k1.west) |- (\c.west);
\end{tikzpicture}
\end{document}
